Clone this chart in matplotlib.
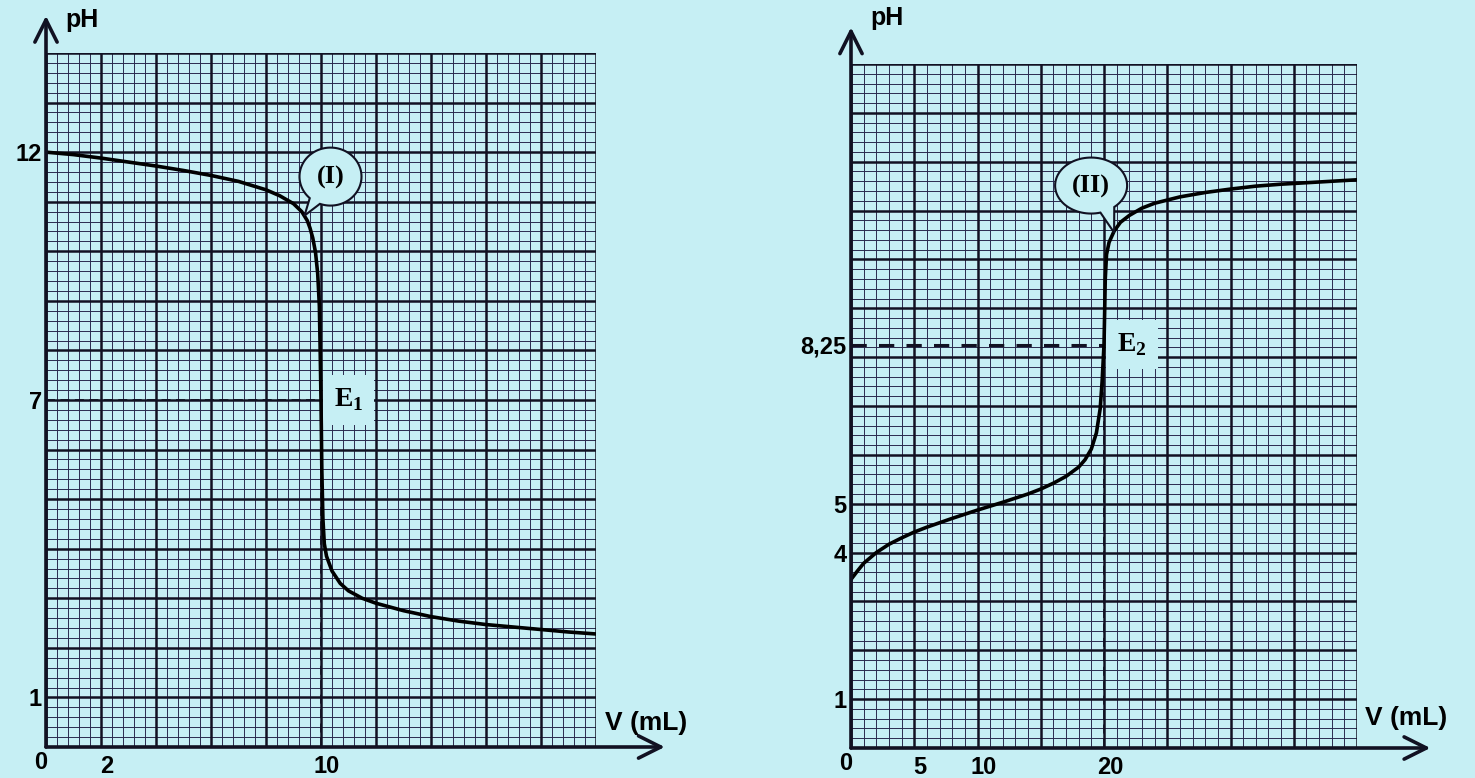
import numpy as np
import matplotlib
matplotlib.use('Agg')
import matplotlib.pyplot as plt
from matplotlib.path import Path
from matplotlib.patches import PathPatch
from matplotlib.transforms import IdentityTransform, ScaledTranslation

# curve (I): pH vs added volume
v1 = [0, 1, 2, 3, 4, 5, 6, 7, 8, 8.5, 9, 9.3, 9.5, 9.6, 9.7, 9.8, 9.88, 9.94,
      9.97, 10.0, 10.03, 10.07, 10.12, 10.2, 10.4, 10.7, 11, 11.5, 12, 13, 14,
      15, 16, 17, 18, 19, 20]
ph1 = [12.0, 11.95, 11.88, 11.8, 11.72, 11.63, 11.53, 11.41, 11.24, 11.12,
       10.96, 10.8, 10.62, 10.47, 10.27, 9.98, 9.55, 8.9, 8.0, 7.0, 5.6, 4.6,
       4.1, 3.85, 3.55, 3.3, 3.15, 3.0, 2.9, 2.75, 2.63, 2.54, 2.47, 2.42,
       2.37, 2.32, 2.28]

# curve (II)
v2 = [0, 0.5, 1, 2, 3, 4, 5, 6, 8, 10, 12, 14, 15, 16, 17, 18, 18.5, 19, 19.4,
      19.7, 19.85, 19.95, 20.0, 20.05, 20.1, 20.2, 20.4, 20.8, 21.3, 22, 23,
      24, 26, 28, 30, 32, 34, 36, 38, 40]
ph2 = [3.45, 3.62, 3.78, 4.0, 4.17, 4.3, 4.42, 4.52, 4.7, 4.87, 5.03, 5.2, 5.3,
       5.42, 5.56, 5.75, 5.9, 6.12, 6.45, 6.95, 7.5, 8.0, 8.25, 8.9, 9.6, 10.1,
       10.35, 10.58, 10.76, 10.9, 11.05, 11.15, 11.28, 11.37, 11.44, 11.5,
       11.54, 11.57, 11.6, 11.63]

# equivalence points
e1 = (10, 7)
e2 = (20, 8.25)

left_yticks = [1, 7, 12]
left_ylabels = ['1', '7', '12']
left_xticks = [2, 10]
right_yticks = [1, 4, 5, 8.25]
right_ylabels = ['1', '4', '5', '8,25']
right_xticks = [5, 10, 20]

BG = '#c6eff4'
INK = '#111122'
W, H = 1475, 778

plt.rcParams['font.family'] = ['Liberation Sans', 'DejaVu Sans']
plt.rcParams['font.weight'] = 'bold'
plt.rcParams['mathtext.fontset'] = 'custom'
plt.rcParams['mathtext.rm'] = 'Liberation Serif'
plt.rcParams['mathtext.bf'] = 'Liberation Serif:bold'

fig = plt.figure(figsize=(W / 100, H / 100), dpi=100, facecolor=BG)
ax1 = fig.add_axes([46 / W, (H - 747) / H, 550 / W, 694 / H])
ax2 = fig.add_axes([851 / W, (H - 748) / H, 506 / W, 684 / H])


def paper(ax, xmax, xmajor, xminor, xarrow):
    ax.set_xlim(0, xmax)
    ax.set_ylim(0, 14)
    ax.set_facecolor(BG)
    for s in ax.spines.values():
        s.set_visible(False)
    ax.vlines(np.arange(0, xmax + 1e-9, xminor), 0, 14, color='#2a2a4e', lw=0.7, zorder=1)
    ax.hlines(np.arange(0, 14 + 1e-9, 0.2), 0, xmax, color='#2a2a4e', lw=0.7, zorder=1)
    ax.vlines(np.arange(0, xmax + 1e-9, xmajor), 0, 14, color=INK, lw=1.8, zorder=1)
    ax.hlines(np.arange(0, 15), 0, xmax, color=INK, lw=1.8, zorder=1)
    arrow = dict(arrowstyle='->,head_length=0.8,head_width=0.4', lw=2.6,
                 color=INK, mutation_scale=20, shrinkA=0, shrinkB=0)
    ax.annotate('', xy=(xarrow, 0), xytext=(0, 0), arrowprops=arrow,
                annotation_clip=False, zorder=6)
    ax.annotate('', xy=(0, 14.75), xytext=(0, 0), arrowprops=arrow,
                annotation_clip=False, zorder=6)
    ax.tick_params(length=0, labelsize=17, pad=3)
    ax.tick_params(axis='x', pad=6)
    ax.annotate('0', xy=(0, 0), xytext=(-4, -11), textcoords='offset points',
                ha='center', va='center', fontsize=17)


def bubble(ax, tip, dx, dy, a, b, t0, t1, label):
    tx, ty = ax.transData.transform(tip)
    cx, cy = tx + dx, ty + dy
    ts = np.radians(np.linspace(t1, t0 + 360, 90))
    verts = [(cx + a * np.cos(t), cy + b * np.sin(t)) for t in ts]
    verts += [(tx, ty), verts[0]]
    codes = [Path.MOVETO] + [Path.LINETO] * (len(verts) - 2) + [Path.CLOSEPOLY]
    patch = PathPatch(Path(verts, codes), transform=IdentityTransform(),
                      fc=BG, ec=INK, lw=1.5, zorder=7, clip_on=False)
    fig.add_artist(patch)
    fig.text(cx, cy - 1, label, transform=IdentityTransform(), ha='center',
             va='center', fontsize=19, family='Liberation Serif',
             weight='bold', zorder=8)


# left graph
paper(ax1, 20, 2, 0.4, 22.5)
ax1.set_xticks(left_xticks)
ax1.set_yticks(left_yticks, left_ylabels)
ax1.plot([0, e1[0]], [e1[1], e1[1]], color=INK, lw=1.3, dashes=(5, 3), zorder=2)
ax1.plot([e1[0], e1[0]], [0, e1[1]], color=INK, lw=1.3, dashes=(5, 3), zorder=2)
ax1.plot(v1, ph1, color='black', lw=2.6, zorder=4, solid_capstyle='round')
ax1.text(11.0, e1[1], r'$\mathbf{E}_\mathrm{1}$', ha='center', va='center',
         fontsize=20, zorder=3,
         bbox=dict(boxstyle='square,pad=0.4', fc=BG, ec='none'))
ax1.text(1.016, 0.035, 'V (mL)', transform=ax1.transAxes, ha='left',
         va='center', fontsize=19)
ax1.text(0.035, 1.047, 'pH', transform=ax1.transAxes, ha='left',
         va='center', fontsize=18)

# right graph
paper(ax2, 40, 5, 1, 45.8)
ax2.set_xticks(right_xticks)
ax2.set_yticks(right_yticks, right_ylabels)
ax2.plot([0, e2[0]], [e2[1], e2[1]], color=INK, lw=2.2, dashes=(5, 4), zorder=2)
ax2.plot([e2[0], e2[0]], [0, e2[1]], color=INK, lw=1.3, dashes=(5, 3), zorder=2)
ax2.plot(v2, ph2, color='black', lw=2.6, zorder=4, solid_capstyle='round')
ax2.text(22.2, e2[1], r'$\mathbf{E}_\mathrm{2}$', ha='center', va='center',
         fontsize=20, zorder=3,
         bbox=dict(boxstyle='square,pad=0.4', fc=BG, ec='none'))
ax2.text(1.016, 0.044, 'V (mL)', transform=ax2.transAxes, ha='left',
         va='center', fontsize=19)
ax2.text(0.038, 1.067, 'pH', transform=ax2.transAxes, ha='left',
         va='center', fontsize=18)

# shift x tick labels a little to the right, as in the print
for ax in (ax1, ax2):
    for lab in ax.get_xticklabels():
        lab.set_transform(lab.get_transform() + ScaledTranslation(0.06, 0, fig.dpi_scale_trans))

bubble(ax1, (9.4, 10.72), 26, 39, 31, 29, 228, 250, '(I)')
bubble(ax2, (20.8, 10.55), -23, 47, 36, 28, 285, 310, '(II)')

fig.savefig('out.png', dpi=100, facecolor=BG)
